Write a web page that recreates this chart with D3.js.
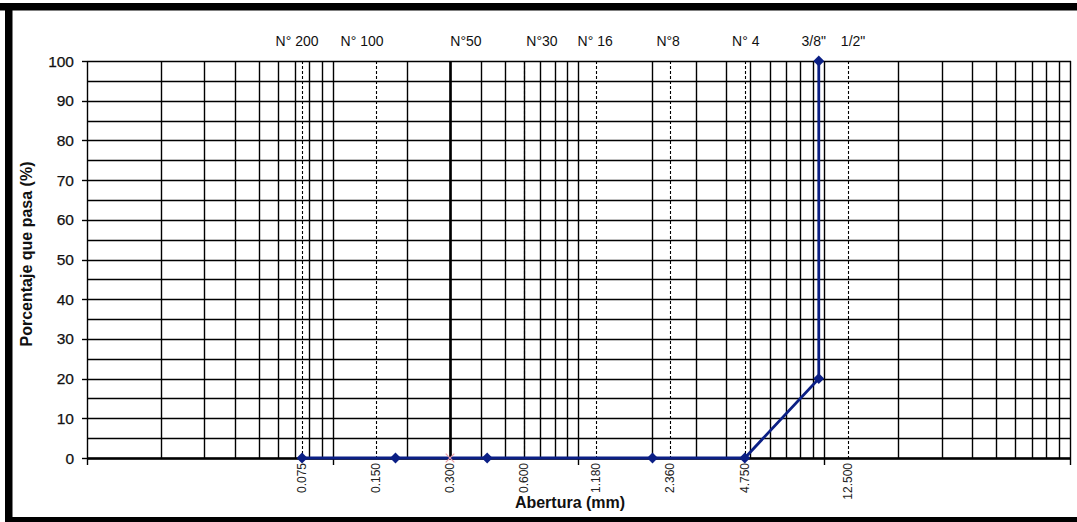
<!DOCTYPE html>
<html>
<head>
<meta charset="utf-8">
<script src="https://cdn.jsdelivr.net/npm/d3@7/dist/d3.min.js"></script>
<style>
  html, body { margin: 0; padding: 0; background: #fff; }
  svg { display: block; font-family: "Liberation Sans", Arial, sans-serif; }
</style>
</head>
<body>
<svg id="chart" width="1077" height="522"></svg>
<script>
// ---- Data ----
const sieveSizes = [0.075, 0.150, 0.300, 0.600, 1.180, 2.360, 4.750, 12.500];
const sieveTickLabels = ["0.075", "0.150", "0.300", "0.600", "1.180", "2.360", "4.750", "12.500"];
const topLabels = ["N° 200", "N° 100", "N°50", "N°30", "N° 16", "N°8", "N° 4", "3/8\"", "1/2\""];
const topLabelSizes = [0.075, 0.150, 0.300, 0.600, 1.180, 2.360, 4.750, 9.5, 12.5];
const seriesAbertura = [0.075, 0.18, 0.425, 2.0, 4.75, 9.5, 9.5];
const seriesPasa = [0, 0, 0, 0, 0, 20, 100];
const extraMarkerX = [0.300];
const extraMarkerY = [0];
const yTicks = [0, 10, 20, 30, 40, 50, 60, 70, 80, 90, 100];

// ---- Layout ----
const svg = d3.select("#chart");
const W = 1077, H = 522;
const pLeft = 87, pRight = 1070, pTop = 61, pBottom = 458;
const x = d3.scaleLog().domain([0.01, 100]).range([pLeft, pRight]);
const y = d3.scaleLinear().domain([0, 100]).range([pBottom, pTop]);
const topLabelNudge = [-5, -14, 16, 18, -1, -2, 1, -5, 5];
const px = v => Math.round(v) + 0.5;

// frame
svg.append("rect").attr("x", 0).attr("y", 0).attr("width", W).attr("height", H).attr("fill", "#fff");
svg.append("rect").attr("x", 0).attr("y", 3).attr("width", W).attr("height", 7.5).attr("fill", "#000");
svg.append("rect").attr("x", 5).attr("y", 3).attr("width", 7.5).attr("height", H - 3).attr("fill", "#000");
svg.append("rect").attr("x", 5).attr("y", 517).attr("width", W - 5).attr("height", 5).attr("fill", "#000");

const g = svg.append("g");

// horizontal grid every 5
g.selectAll("line.hgrid").data(d3.range(0, 101, 5)).join("line")
  .attr("x1", pLeft).attr("x2", pRight + 1)
  .attr("y1", d => px(y(d))).attr("y2", d => px(y(d)))
  .attr("stroke", "#000").attr("stroke-width", 1.4);

// vertical log grid
const vgrid = [];
for (let k = -2; k <= 1; k++) for (let m = 1; m <= 9; m++) vgrid.push(m * Math.pow(10, k));
vgrid.push(100);
g.selectAll("line.vgrid").data(vgrid).join("line")
  .attr("x1", d => px(x(d))).attr("x2", d => px(x(d)))
  .attr("y1", pTop).attr("y2", pBottom)
  .attr("stroke", "#000").attr("stroke-width", 1.4);

// sieve lines
g.selectAll("line.sieve").data(sieveSizes).join("line")
  .attr("x1", d => px(x(d))).attr("x2", d => px(x(d)))
  .attr("y1", pTop).attr("y2", pBottom)
  .attr("stroke", "#000")
  .attr("stroke-width", d => d === 0.3 ? 2.6 : 1.1)
  .attr("stroke-dasharray", d => d === 0.3 ? null : "3,2");

// x axis line
g.append("line").attr("x1", pLeft).attr("x2", pRight + 1)
  .attr("y1", pBottom + 0.5).attr("y2", pBottom + 0.5)
  .attr("stroke", "#000").attr("stroke-width", 2.6);
// decade ticks below axis
g.selectAll("line.xtick").data([0.01, 0.1, 1, 10, 100]).join("line")
  .attr("x1", d => px(x(d))).attr("x2", d => px(x(d)))
  .attr("y1", pBottom).attr("y2", pBottom + 7)
  .attr("stroke", "#000").attr("stroke-width", 1.4);

// y ticks and labels
g.selectAll("line.ytick").data(yTicks).join("line")
  .attr("x1", pLeft - 5).attr("x2", pLeft)
  .attr("y1", d => px(y(d))).attr("y2", d => px(y(d)))
  .attr("stroke", "#000").attr("stroke-width", 1.4);
g.selectAll("text.ylab").data(yTicks).join("text")
  .attr("x", 74).attr("y", d => y(d)).attr("dy", "0.36em")
  .attr("text-anchor", "end").attr("font-size", 15.5).attr("fill", "#111")
  .attr("stroke", "#111").attr("stroke-width", 0.25)
  .text(d => d);

// x tick labels (rotated)
g.selectAll("text.xlab").data(sieveSizes).join("text")
  .attr("transform", d => `translate(${x(d) + 4},463) rotate(-90)`)
  .attr("text-anchor", "end").attr("font-size", 12).attr("fill", "#222")
  .text((d, i) => sieveTickLabels[i]);

// top labels
g.selectAll("text.toplab").data(topLabels).join("text")
  .attr("x", (d, i) => x(topLabelSizes[i]) + topLabelNudge[i]).attr("y", 46)
  .attr("text-anchor", "middle").attr("font-size", 14).attr("fill", "#111")
  .text(d => d);

// axis titles
svg.append("text")
  .attr("transform", "translate(32,254) rotate(-90)")
  .attr("text-anchor", "middle").attr("font-size", 16).attr("font-weight", "bold").attr("fill", "#111")
  .text("Porcentaje que pasa (%)");
svg.append("text")
  .attr("x", 570).attr("y", 508)
  .attr("text-anchor", "middle").attr("font-size", 16).attr("font-weight", "bold").attr("fill", "#111")
  .text("Abertura (mm)");

// series
const pts = seriesAbertura.map((a, i) => [a, seriesPasa[i]]);
const blue = "#0b1f85";
g.append("path").datum(pts)
  .attr("d", d3.line().x(d => x(d[0])).y(d => y(d[1])))
  .attr("fill", "none").attr("stroke", blue).attr("stroke-width", 2.8);
g.selectAll("path.mk").data(pts).join("path")
  .attr("transform", d => `translate(${x(d[0])},${y(d[1])})`)
  .attr("d", d3.symbol().type(d3.symbolDiamond2).size(75))
  .attr("fill", blue);

// extra marker (pink x)
g.selectAll("path.xm").data(extraMarkerX).join("path")
  .attr("transform", (d, i) => `translate(${x(d)},${y(extraMarkerY[i])})`)
  .attr("d", d3.symbol().type(d3.symbolX).size(50))
  .attr("fill", "none").attr("stroke", "#f0a0a8").attr("stroke-width", 1.2);
</script>
</body>
</html>
